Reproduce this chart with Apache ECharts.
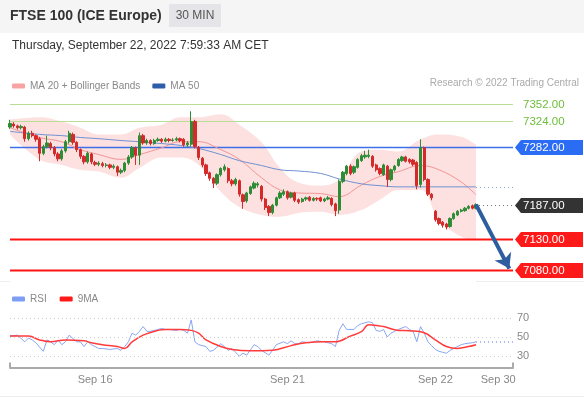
<!DOCTYPE html>
<html>
<head>
<meta charset="utf-8">
<script src="https://cdn.jsdelivr.net/npm/echarts@6/dist/echarts.min.js"></script>
<style>
  body{margin:0;background:#fff;}
  #main{width:584px;height:400px;}
</style>
</head>
<body>
<div id="main"></div>
<script>
// 30 min candles [open, close, low, high]
var candles = [
  [7314,7320,7311,7326],[7319,7316,7313,7322],[7316,7313,7310,7318],[7313,7315,7310,7318],
  [7314,7295,7290,7316],[7295,7304,7292,7307],[7304,7300,7297,7308],[7300,7294,7290,7302],
  [7295,7271,7258,7298],[7271,7282,7268,7285],[7282,7288,7279,7300],[7287,7280,7276,7290],
  [7280,7270,7266,7283],[7270,7262,7258,7273],[7262,7275,7259,7278],[7275,7290,7272,7293],
  [7290,7304,7287,7308],[7302,7289,7285,7305],[7289,7277,7273,7291],[7277,7266,7262,7279],
  [7266,7257,7253,7268],[7257,7271,7254,7274],[7270,7257,7253,7272],[7256,7253,7250,7259],
  [7253,7255,7250,7258],[7254,7251,7248,7257],[7251,7252,7248,7255],[7252,7248,7245,7254],
  [7248,7250,7245,7253],[7249,7240,7234,7251],[7240,7243,7237,7246],[7243,7255,7240,7257],
  [7255,7265,7252,7268],[7265,7280,7262,7283],[7280,7268,7252,7282],[7268,7300,7252,7305],
  [7300,7288,7285,7303],[7288,7292,7285,7295],[7292,7287,7284,7294],[7287,7292,7285,7295],
  [7292,7294,7290,7297],[7294,7291,7288,7296],[7291,7294,7289,7297],[7294,7292,7289,7296],
  [7292,7293,7290,7296],[7293,7295,7291,7298],[7295,7292,7289,7297],[7294,7285,7282,7296],
  [7285,7288,7282,7291],[7286,7323,7282,7340],[7323,7282,7279,7326],[7281,7264,7260,7283],
  [7263,7252,7248,7265],[7252,7238,7234,7254],[7239,7230,7226,7241],[7230,7222,7214,7232],
  [7222,7236,7219,7238],[7236,7246,7233,7248],[7244,7249,7241,7253],[7246,7226,7222,7248],
  [7226,7221,7217,7229],[7221,7228,7218,7231],[7226,7204,7200,7228],[7203,7192,7180,7205],
  [7193,7206,7190,7208],[7205,7216,7203,7218],[7214,7222,7212,7225],[7219,7221,7215,7224],
  [7217,7196,7192,7219],[7196,7182,7178,7198],[7184,7174,7168,7186],[7174,7186,7171,7188],
  [7186,7198,7184,7200],[7198,7206,7196,7209],[7204,7208,7201,7212],[7208,7198,7195,7210],
  [7199,7206,7197,7208],[7206,7194,7191,7208],[7195,7191,7188,7197],[7192,7196,7190,7198],
  [7196,7198,7193,7200],[7199,7194,7192,7201],[7194,7197,7192,7199],[7197,7196,7193,7199],
  [7198,7193,7191,7200],[7193,7196,7191,7198],[7196,7198,7194,7201],[7197,7187,7184,7199],
  [7188,7177,7168,7190],[7178,7225,7172,7228],[7225,7240,7222,7242],[7238,7250,7235,7252],
  [7250,7238,7235,7253],[7240,7249,7237,7251],[7248,7261,7246,7263],[7259,7267,7257,7270],
  [7265,7268,7262,7275],[7266,7268,7263,7277],[7266,7250,7247,7268],[7252,7244,7241,7254],
  [7246,7238,7235,7248],[7236,7252,7234,7254],[7250,7228,7216,7252],[7228,7244,7225,7246],
  [7244,7250,7241,7252],[7251,7261,7249,7263],[7259,7265,7257,7267],[7265,7258,7256,7267],
  [7261,7257,7254,7263],[7260,7253,7250,7262],[7256,7218,7212,7258],[7220,7280,7215,7294],
  [7280,7228,7225,7282],[7228,7204,7201,7230],[7204,7198,7194,7206],[7176,7162,7159,7178],
  [7164,7156,7153,7166],[7158,7153,7149,7160],[7155,7150,7146,7157],[7151,7164,7149,7166],
  [7164,7172,7162,7174],[7170,7176,7168,7178],[7176,7178,7174,7180],[7177,7181,7175,7183],
  [7181,7184,7179,7186],[7185,7181,7179,7187],[7181,7187,7179,7189]
];
var slotCount = 137;          // candles + empty future slots
var tickIdx = [23, 75, 115, 132];
var tickLabels = ['Sep 16', 'Sep 21', 'Sep 22', 'Sep 30'];

// MA / Bollinger values read at these candle positions
var lineIdx   = [0,8,14,19,24,30,35,41,46,51,57,62,68,73,78,84,89,95,100,105,111,116,122,126];
var bandUpper = [7326,7330,7323,7313,7302,7302,7313,7318,7330,7330,7335,7318,7289,7247,7223,7218,7228,7274,7277,7274,7294,7302,7298,7285];
var bandLower = [7302,7261,7252,7244,7241,7231,7247,7264,7264,7252,7208,7183,7170,7167,7173,7175,7170,7178,7195,7211,7211,7162,7134,7129];
var ma20      = [7313,7297,7290,7277,7269,7261,7269,7280,7290,7290,7277,7261,7231,7211,7206,7205,7200,7219,7233,7241,7251,7244,7224,7203];
var ma50      = [7307,7302,7300,7297,7295,7292,7290,7287,7284,7279,7269,7259,7251,7244,7242,7238,7229,7221,7218,7216,7216,7216,7216,7216];

var levels = [7352, 7324, 7282, 7187, 7130, 7080];
var arrowFrom = [126, 7187];
var arrowTo = [135, 7082];

var rsiIdx = [0,2,4,5,6,7,9,10,11,12,13,14,15,16,18,19,20,21,22,24,25,27,29,30,31,32,33,34,35,36,37,38,39,41,42,43,45,46,47,48,49,50,51,53,54,55,57,58,59,60,62,63,64,66,67,68,70,71,72,74,75,76,77,78,79,81,83,85,87,88,89,90,91,93,94,95,97,98,99,100,101,102,103,104,105,107,108,109,110,111,112,113,114,115,116,117,118,119,120,122,123,125,126];
var rsiVal = [51,52,45,49,47,44,35,47,45,42,47,42,45,52,45,45,40,45,42,38,38,37,38,36,40,45,54,52,56,61,56,56,57,59,58,58,57,58,57,54,68,45,42,40,35,36,43,40,36,38,30,33,31,42,40,36,31,36,42,45,43,46,43,43,45,44,46,45,43,40,57,64,58,58,62,64,66,65,57,56,58,50,54,56,58,61,58,56,45,61,54,45,41,37,35,34,33,36,38,42,43,44,45];
var ma9Idx = [0,5,8,11,15,20,22,25,29,31,33,36,40,42,46,49,51,53,57,60,65,68,71,76,80,85,88,92,95,97,101,105,108,112,115,118,121,124,126];
var ma9Val = [51,51,47,45,47,46,44,42,40,38,45,52,57,58,58,57,54,47,40,37,35.6,35.6,36,41,44,45,45,51,55.6,63,61,57,56.6,54.5,47,40,38,40,42];
var rsiLevels = [70, 50, 30];

var FONT = 'Liberation Sans, Arial, sans-serif';
var categories = [];
for (var i = 0; i < slotCount; i++) { categories.push(String(i)); }
var lastIdx = candles.length - 1;

function pairs(idx, vals) {
  return idx.map(function (k, j) { return [k, vals[j]]; });
}

var levelStyles = [
  {line: '#b9dd95', width: 1, text: '#6cbd3a'},
  {line: '#b9dd95', width: 1, text: '#6cbd3a'},
  {line: '#3f6fe6', width: 1.5, box: '#2b6cf5', text: '#fff'},
  {line: '#777', width: 1, dash: [1, 3], fromLast: true, box: '#333', text: '#fff'},
  {line: '#ff1414', width: 2, box: '#ff1a1a', text: '#fff'},
  {line: '#ff1414', width: 2, box: '#ff1a1a', text: '#fff'}
];

function renderLevel(params, api) {
  var cs = params.coordSys;
  var st = levelStyles[params.dataIndex];
  var v = api.value(1);
  var p = api.coord([api.value(0), v]);
  var y = Math.round(p[1]) + 0.5;
  var xr = cs.x + cs.width;
  var x0 = st.fromLast ? p[0] + 3 : cs.x;
  var children = [{
    type: 'line',
    shape: {x1: x0, y1: y, x2: xr, y2: y},
    style: {stroke: st.line, lineWidth: st.width, lineDash: st.dash || null}
  }];
  if (st.box) {
    children.push({
      type: 'polygon',
      shape: {points: [[xr + 2, y], [xr + 8, y - 7.5], [xr + 70, y - 7.5], [xr + 70, y + 7.5], [xr + 8, y + 7.5]]},
      style: {fill: st.box}
    });
  }
  children.push({
    type: 'text',
    style: {text: v.toFixed(2), x: xr + 10, y: y, verticalAlign: 'middle', fill: st.text, fontSize: 11.5, fontFamily: FONT}
  });
  return {type: 'group', children: children};
}

var myChart = echarts.init(document.getElementById('main'));
var option = {
  animation: false,
  textStyle: {fontFamily: FONT},
  graphic: [
    {type: 'rect', shape: {x: 0, y: 0, width: 584, height: 33}, style: {fill: '#f5f5f5'}, z: -10},
    {type: 'text', style: {text: 'FTSE 100 (ICE Europe)', x: 10, y: 16, verticalAlign: 'middle', font: 'bold 14px ' + FONT, fill: '#333'}},
    {type: 'rect', shape: {x: 169, y: 4, width: 52, height: 23}, style: {fill: '#e5e5e9'}},
    {type: 'text', style: {text: '30 MIN', x: 195, y: 16, align: 'center', verticalAlign: 'middle', font: '12px ' + FONT, fill: '#555'}},
    {type: 'text', style: {text: 'Thursday, September 22, 2022 7:59:33 AM CET', x: 12, y: 46, verticalAlign: 'middle', font: '12px ' + FONT, fill: '#333'}},
    {type: 'text', style: {text: 'Research \u00a9 2022 Trading Central', x: 579, y: 83, align: 'right', verticalAlign: 'middle', font: '10px ' + FONT, fill: '#aaa'}},
    {type: 'line', shape: {x1: 0, y1: 281.5, x2: 584, y2: 281.5}, style: {stroke: '#eeeeee', lineWidth: 1}},
    {type: 'line', shape: {x1: 0, y1: 396.5, x2: 584, y2: 396.5}, style: {stroke: '#eeeeee', lineWidth: 1}}
  ],
  legend: [
    {
      left: 7, top: 76, selectedMode: false, icon: 'roundRect', itemWidth: 13, itemHeight: 5, itemGap: 12,
      textStyle: {color: '#888', fontSize: 10, fontFamily: FONT},
      data: [{name: 'MA 20 + Bollinger Bands', itemStyle: {color: '#f7a3a3'}}, {name: 'MA 50', itemStyle: {color: '#2f5ea8'}}]
    },
    {
      left: 7, top: 289, selectedMode: false, icon: 'roundRect', itemWidth: 13, itemHeight: 5, itemGap: 13,
      textStyle: {color: '#888', fontSize: 10, fontFamily: FONT},
      data: [{name: 'RSI', itemStyle: {color: '#7d9ef2'}}, {name: '9MA', itemStyle: {color: '#ff1a1a'}}]
    }
  ],
  grid: [
    {left: 10, right: 71, top: 96, height: 186},
    {left: 10, right: 71, top: 308.5, height: 59}
  ],
  xAxis: [
    {type: 'category', gridIndex: 0, data: categories, boundaryGap: false, show: false},
    {
      type: 'category', gridIndex: 1, data: categories, boundaryGap: false,
      axisLine: {lineStyle: {color: '#aaa', width: 2}},
      axisTick: {show: true, inside: true, length: 5, lineStyle: {color: '#aaa', width: 2},
        interval: function (index) { return index === 0 || index === slotCount - 1; }},
      axisLabel: {
        color: '#888', fontSize: 11, margin: 7, fontFamily: FONT,
        interval: function (index) { return tickIdx.indexOf(index) >= 0; },
        formatter: function (value, index) {
          var k = tickIdx.indexOf(Number(value));
          return k >= 0 ? tickLabels[k] : '';
        }
      },
      splitLine: {show: false}
    }
  ],
  yAxis: [
    {type: 'value', gridIndex: 0, min: 7060, max: 7365, show: false},
    {type: 'value', gridIndex: 1, min: 18, max: 80, show: false}
  ],
  series: [
    {
      name: 'bbUpper', type: 'line', data: pairs(lineIdx, bandUpper), smooth: 0.4, showSymbol: false, silent: true,
      lineStyle: {width: 0}, areaStyle: {color: '#fde1e1', origin: 'start', opacity: 1}, z: 1
    },
    {
      name: 'bbLower', type: 'line', data: pairs(lineIdx, bandLower), smooth: 0.4, showSymbol: false, silent: true,
      lineStyle: {width: 0}, areaStyle: {color: '#ffffff', origin: 'start', opacity: 1}, z: 1
    },
    {
      name: 'MA 20 + Bollinger Bands', type: 'line', data: pairs(lineIdx, ma20), smooth: 0.4, showSymbol: false,
      lineStyle: {color: '#f29494', width: 1}, itemStyle: {color: '#f7a3a3'}, z: 3
    },
    {
      name: 'MA 50', type: 'line', data: pairs(lineIdx, ma50), smooth: 0.4, showSymbol: false,
      lineStyle: {color: '#7090d2', width: 1}, itemStyle: {color: '#2f5ea8'}, z: 3,
      markLine: {
        silent: true, symbol: 'none', label: {show: false},
        lineStyle: {color: '#8fa4cf', type: [1, 3], width: 1},
        data: [[{coord: [lastIdx, ma50[ma50.length - 1]]}, {coord: [slotCount - 1, ma50[ma50.length - 1]]}]]
      }
    },
    {
      name: 'levels', type: 'custom', renderItem: renderLevel, silent: true, clip: false,
      encode: {x: 0, y: 1},
      data: levels.map(function (v, i) { return [levelStyles[i].fromLast ? lastIdx : 0, v]; }),
      z: 3
    },
    {
      name: 'FTSE', type: 'candlestick', data: candles, barWidth: 2.8, clip: false, z: 4,
      itemStyle: {color: '#2f8c36', color0: '#d42a2a', borderColor: '#2f8c36', borderColor0: '#d42a2a', borderWidth: 1},
      markLine: {
        silent: true, symbol: ['none', 'arrow'], symbolSize: 14, label: {show: false},
        lineStyle: {color: '#2d5e9f', width: 4, type: 'solid'},
        data: [[{coord: arrowFrom}, {coord: arrowTo}]]
      }
    },
    {
      name: 'RSI', type: 'line', xAxisIndex: 1, yAxisIndex: 1, data: pairs(rsiIdx, rsiVal), showSymbol: false,
      lineStyle: {color: '#8aa6f2', width: 1}, itemStyle: {color: '#7d9ef2'}, z: 3,
      markLine: {
        silent: true, symbol: 'none',
        data: rsiLevels.map(function (v) {
          return {yAxis: v, lineStyle: {color: '#cfcfcf', type: [1, 3], width: 1},
            label: {show: true, position: 'end', distance: 4, formatter: String(v), color: '#888', fontSize: 11, fontFamily: FONT}};
        }).concat([[
          {coord: [lastIdx, rsiVal[rsiVal.length - 1]], lineStyle: {color: '#8aa6f2', type: [1, 3], width: 1.5}, label: {show: false}},
          {coord: [slotCount - 1, rsiVal[rsiVal.length - 1]]}
        ]])
      }
    },
    {
      name: '9MA', type: 'line', xAxisIndex: 1, yAxisIndex: 1, data: pairs(ma9Idx, ma9Val), smooth: 0.4, showSymbol: false,
      lineStyle: {color: '#ff3b3b', width: 1.5}, itemStyle: {color: '#ff1a1a'}, z: 4
    }
  ]
};
myChart.setOption(option);
</script>
</body>
</html>
